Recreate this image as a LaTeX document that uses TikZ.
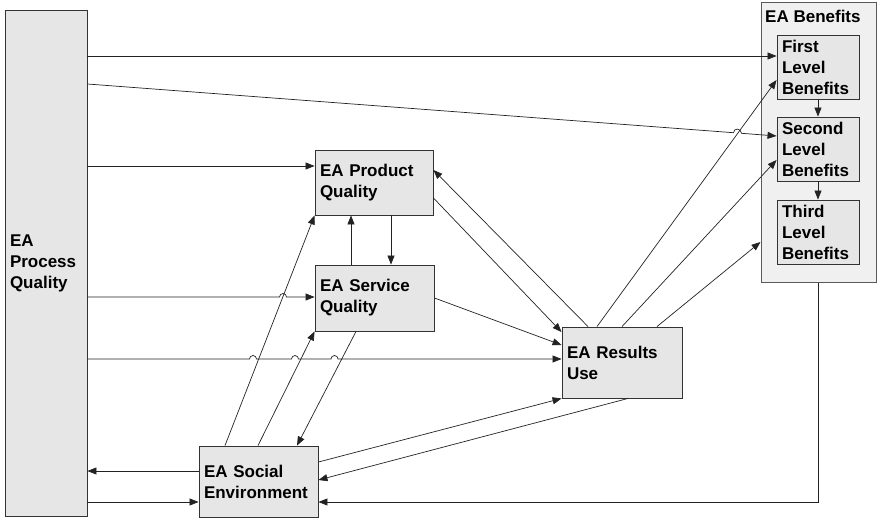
\documentclass[tikz,border=0pt]{standalone}
\usepackage{fontspec}
\setmainfont{Liberation Sans}
\usetikzlibrary{arrows.meta,calc}
\definecolor{boxfill}{HTML}{E6E6E6}
\definecolor{outerfill}{HTML}{F0F0F0}
\definecolor{linecol}{HTML}{222222}
\definecolor{bordercol}{HTML}{333333}
\tikzset{
  box/.style={draw=bordercol, line width=0.9pt, fill=boxfill, inner xsep=5pt, inner ysep=0pt,
    align=left, font=\bfseries\fontsize{17}{21}\selectfont, anchor=center},
  outerbox/.style={draw=black!65, line width=1pt, fill=outerfill, inner sep=0pt},
  conn/.style={draw=linecol, line width=0.7pt},
  arr/.style={conn, -{Triangle[length=9pt,width=7pt]}},
  lbl/.style={inner sep=0pt, font=\bfseries\fontsize{17}{21}\selectfont}
}
\begin{document}
\begin{tikzpicture}[x=1pt,y=-1pt]
\useasboundingbox (0,0) rectangle (878,520);
% nodes
\node[outerbox, minimum width=115pt, minimum height=280pt] (ben) at (818.5,142) {};
\node[lbl, anchor=base west] (bent) at (765,22) {EA Benefits};
\node[box, minimum width=82pt, minimum height=64pt, text width=72pt] (fl) at (818,67) {First\\Level\\Benefits};
\node[box, minimum width=82pt, minimum height=64pt, text width=72pt] (sl) at (818,149) {Second\\Level\\Benefits};
\node[box, minimum width=82pt, minimum height=64pt, text width=72pt] (tl) at (818,232) {Third\\Level\\Benefits};
\node[box, minimum width=82pt, minimum height=506pt, text width=72pt] (proc) at (46,263) {EA\\Process\\Quality};
\node[box, minimum width=118pt, minimum height=65pt, text width=108pt] (pq) at (374,182.5) {EA Product\\Quality};
\node[box, minimum width=119pt, minimum height=66pt, text width=109pt] (sq) at (374.5,298) {EA Service\\Quality};
\node[box, minimum width=119pt, minimum height=71pt, text width=109pt] (soc) at (258.5,481.5) {EA Social\\Environment};
\node[box, minimum width=120pt, minimum height=71pt, text width=110pt] (ru) at (622,362.5) {EA Results\\Use};
% connectors from process quality
\draw[arr] (proc.east |- 0,56) -- (fl.west |- 0,56);
\draw[arr] (proc.east |- 0,84) -- (733.5,132.7) .. controls (734,127.5) and (741,128.1) .. (741.5,133.3) -- (sl.west |- 0,136);
\draw[arr] (proc.east |- 0,166) -- (pq.west |- 0,166);
\draw[arr] (proc.east |- 0,297) -- (279.5,297) arc[start angle=180,end angle=0,radius=3.5pt] -- (sq.west |- 0,297);
\draw[arr] (proc.east |- 0,359) -- (249.5,359) arc[start angle=180,end angle=0,radius=3.5pt]
  -- (291.5,359) arc[start angle=180,end angle=0,radius=3.5pt]
  -- (331,359) arc[start angle=180,end angle=0,radius=3.5pt] -- (ru.west |- 0,359);
\draw[arr] (soc.west |- 0,471) -- (proc.east |- 0,471);
\draw[arr] (proc.east |- 0,502) -- (soc.west |- 0,502);
% benefits
\draw[arr] (ben.south) -- (ben.south |- 0,502) -- (soc.east |- 0,502);
\draw[arr] (fl.south) -- (sl.north);
\draw[arr] (sl.south) -- (tl.north);
% product / service
\draw[arr] (sq.north -| 351,0) -- (pq.south -| 351,0);
\draw[arr] (pq.south -| 391,0) -- (sq.north -| 391,0);
% results use
\draw[arr] (ru.north -| 588,0) -- (pq.east |- 0,170);
\draw[arr] (pq.east |- 0,198) -- (ru.west |- 0,332);
\draw[arr] (sq.east |- 0,298) -- (ru.west |- 0,345);
\draw[arr] (ru.north -| 597,0) -- (fl.west |- 0,80);
\draw[arr] (ru.north -| 622,0) -- (sl.west |- 0,160);
\draw[arr] (ru.north -| 657,0) -- (ben.west |- 0,242);
% social environment
\draw[arr] (soc.north -| 225,0) -- (pq.south west);
\draw[arr] (soc.north -| 258,0) -- (sq.south west);
\draw[arr] (sq.south -| 356,0) -- (soc.north -| 297,0);
\draw[arr] (soc.east |- 0,462) -- (ru.south west);
\draw[arr] (ru.south -| 628,0) -- (soc.east |- 0,480);
\end{tikzpicture}
\end{document}
